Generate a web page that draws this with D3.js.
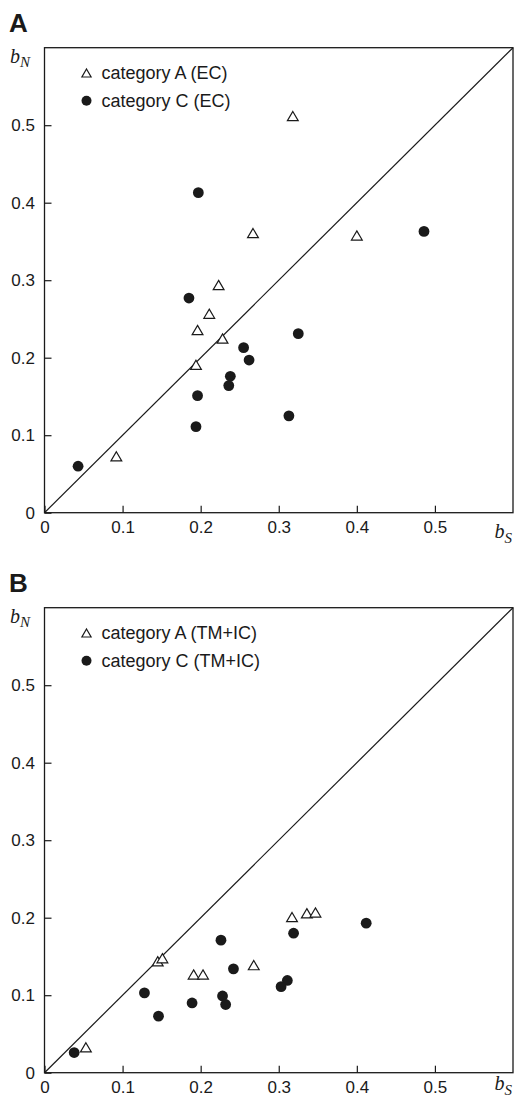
<!DOCTYPE html>
<html>
<head>
<meta charset="utf-8">
<script src="https://cdn.jsdelivr.net/npm/d3@7"></script>
<style>
  html, body { margin: 0; padding: 0; background: #fff; }
  svg { display: block; }
</style>
</head>
<body>
<script>
// ---- data ----
const tickValues = [0, 0.1, 0.2, 0.3, 0.4, 0.5];

// Panel A (EC)
const ecCatA_bS = [0.318, 0.267, 0.400, 0.223, 0.211, 0.196, 0.228, 0.194, 0.092];
const ecCatA_bN = [0.511, 0.360, 0.357, 0.293, 0.256, 0.235, 0.224, 0.190, 0.072];
const ecCatC_bS = [0.197, 0.185, 0.325, 0.255, 0.262, 0.238, 0.236, 0.196, 0.313, 0.194, 0.486, 0.043];
const ecCatC_bN = [0.413, 0.277, 0.231, 0.213, 0.197, 0.176, 0.164, 0.151, 0.125, 0.111, 0.363, 0.060];

// Panel B (TM+IC)
const tmCatA_bS = [0.317, 0.336, 0.347, 0.145, 0.151, 0.268, 0.191, 0.203, 0.053];
const tmCatA_bN = [0.200, 0.205, 0.206, 0.143, 0.147, 0.138, 0.126, 0.126, 0.032];
const tmCatC_bS = [0.412, 0.319, 0.226, 0.242, 0.311, 0.303, 0.128, 0.228, 0.189, 0.232, 0.146, 0.038];
const tmCatC_bN = [0.193, 0.180, 0.171, 0.134, 0.119, 0.111, 0.103, 0.099, 0.090, 0.088, 0.073, 0.026];

const panels = [
  { letter: "A", legendA: "category A (EC)", legendC: "category C (EC)",
    aS: ecCatA_bS, aN: ecCatA_bN, cS: ecCatC_bS, cN: ecCatC_bN },
  { letter: "B", legendA: "category A (TM+IC)", legendC: "category C (TM+IC)",
    aS: tmCatA_bS, aN: tmCatA_bN, cS: tmCatC_bS, cN: tmCatC_bN }
];

// ---- layout ----
const W = 519, H = 1100;
const sans = "'Liberation Sans', Arial, Helvetica, sans-serif";
const serif = "'Liberation Serif', 'Times New Roman', serif";
const ink = "#1a1a1a";

const svg = d3.select("body").append("svg")
  .attr("width", W).attr("height", H)
  .style("background", "#fff");

const left = 44.5, right = 513, plotH = 465;
const panelTops = [47.7, 607.7];

const x = d3.scaleLinear().domain([0, 0.6]).range([left, right]);

const triPath = "M0,-5.2L5.4,4L-5.4,4Z";

panels.forEach((p, i) => {
  const top = panelTops[i];
  const bottom = top + plotH;
  const y = d3.scaleLinear().domain([0, 0.6]).range([bottom, top]);
  const g = svg.append("g");

  // panel letter
  g.append("text").attr("x", 9).attr("y", top - 15.5)
    .attr("font-family", sans).attr("font-weight", "bold")
    .attr("font-size", 26).attr("fill", ink).text(p.letter);

  // frame
  g.append("rect").attr("x", left).attr("y", top)
    .attr("width", right - left).attr("height", plotH)
    .attr("fill", "none").attr("stroke", ink).attr("stroke-width", 1.3);

  const fmt = d => d === 0 ? "0" : d3.format(".1f")(d);

  // x axis
  const xa = g.append("g").attr("transform", `translate(0,${bottom})`)
    .call(d3.axisBottom(x).tickValues(tickValues).tickFormat(fmt)
      .tickSize(-7).tickPadding(8));
  xa.select(".domain").remove();
  xa.selectAll("line").attr("stroke", ink).attr("stroke-width", 1.2);
  xa.selectAll("text").attr("font-family", sans).attr("font-size", 17).attr("fill", ink);

  // y axis
  const ya = g.append("g").attr("transform", `translate(${left},0)`)
    .call(d3.axisLeft(y).tickValues(tickValues).tickFormat(fmt)
      .tickSize(-7).tickPadding(9.5));
  ya.select(".domain").remove();
  ya.selectAll("line").attr("stroke", ink).attr("stroke-width", 1.2);
  ya.selectAll("text").attr("font-family", sans).attr("font-size", 17).attr("fill", ink);

  // axis titles
  const yl = g.append("text").attr("x", 10).attr("y", top + 15.6)
    .attr("font-family", serif).attr("font-style", "italic")
    .attr("font-size", 20).attr("fill", ink);
  yl.append("tspan").text("b");
  yl.append("tspan").attr("font-size", 15).attr("dy", 3.5).text("N");

  const xlBase = Math.min(bottom + 25.5, H - 10);
  const xl = g.append("text").attr("x", 494.5).attr("y", xlBase)
    .attr("font-family", serif).attr("font-style", "italic")
    .attr("font-size", 20).attr("fill", ink);
  xl.append("tspan").text("b");
  xl.append("tspan").attr("font-size", 15).attr("dy", 5).text("S");

  // diagonal
  g.append("line")
    .attr("x1", x(0)).attr("y1", y(0))
    .attr("x2", x(0.6)).attr("y2", y(0.6))
    .attr("stroke", ink).attr("stroke-width", 1.2);

  // category A: open triangles
  g.append("g").selectAll("path").data(p.aS.map((s, k) => [s, p.aN[k]]))
    .join("path")
    .attr("d", triPath)
    .attr("transform", d => `translate(${x(d[0])},${y(d[1])})`)
    .attr("fill", "#fff").attr("stroke", ink).attr("stroke-width", 1.2);

  // category C: filled circles
  g.append("g").selectAll("circle").data(p.cS.map((s, k) => [s, p.cN[k]]))
    .join("circle")
    .attr("cx", d => x(d[0])).attr("cy", d => y(d[1])).attr("r", 5.4)
    .attr("fill", ink);

  // legend
  const lg = g.append("g");
  lg.append("path").attr("d", "M0,-4.5L4.6,3.5L-4.6,3.5Z")
    .attr("transform", `translate(86.5,${top + 25.8})`)
    .attr("fill", "#fff").attr("stroke", ink).attr("stroke-width", 1.2);
  lg.append("text").attr("x", 101.5).attr("y", top + 31.5)
    .attr("font-family", sans).attr("font-size", 18).attr("fill", ink)
    .text(p.legendA);
  lg.append("circle").attr("cx", 86.5).attr("cy", top + 53).attr("r", 5)
    .attr("fill", ink);
  lg.append("text").attr("x", 101.5).attr("y", top + 59)
    .attr("font-family", sans).attr("font-size", 18).attr("fill", ink)
    .text(p.legendC);
});
</script>
</body>
</html>
